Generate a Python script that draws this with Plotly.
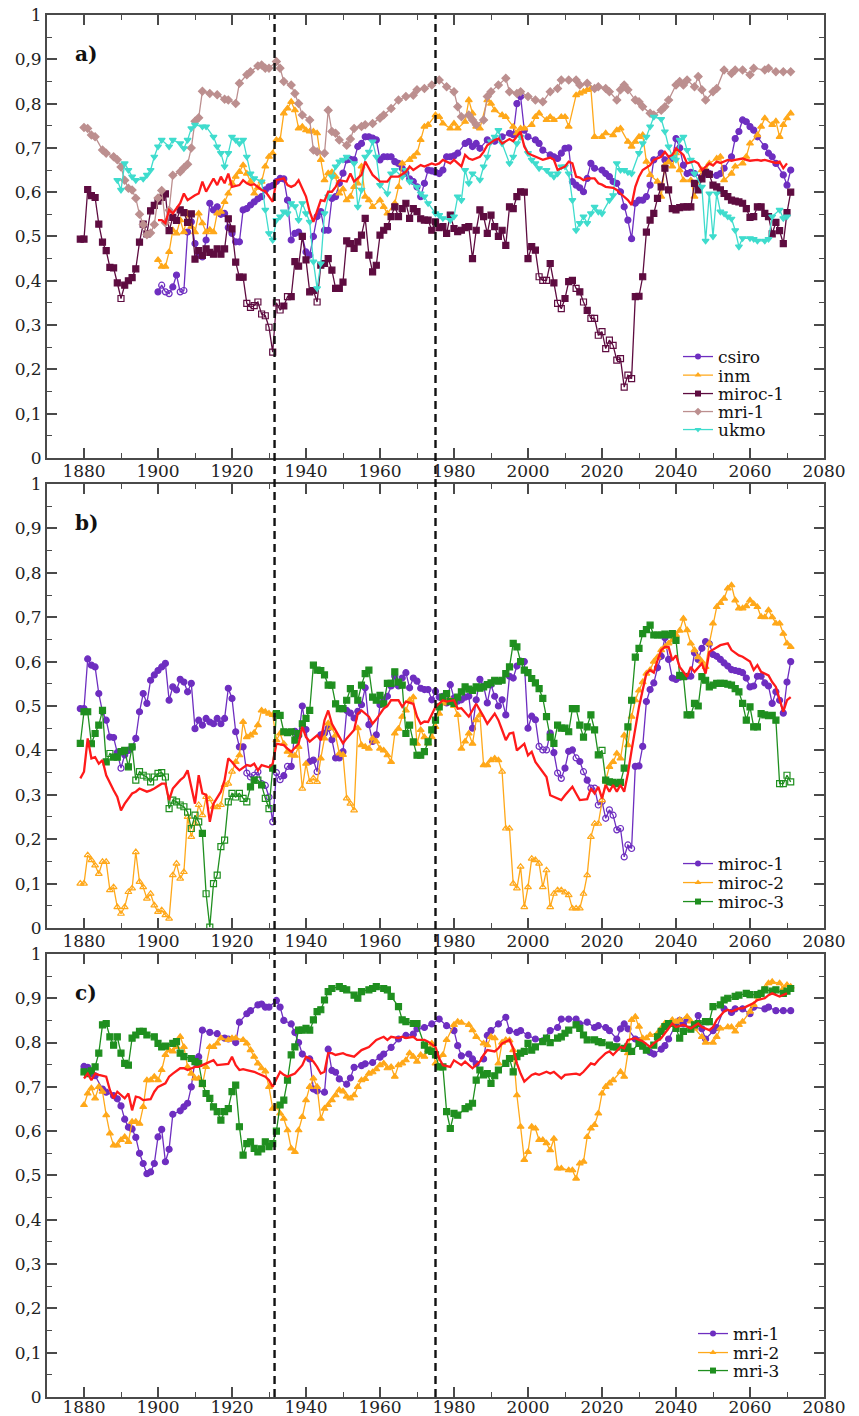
import plotly.graph_objects as go

# ------------------------------------------------------------------ data
x_ticks = [1880, 1900, 1920, 1940, 1960, 1980, 2000, 2020, 2040, 2060, 2080]
y_ticks = [0, 0.1, 0.2, 0.3, 0.4, 0.5, 0.6, 0.7, 0.8, 0.9, 1.0]
y_ticklabels = ["0", "0,1", "0,2", "0,3", "0,4", "0,5", "0,6", "0,7", "0,8", "0,9", "1"]
breaks = [1931.5, 1975.0]

mri1_years = [1880, 1881, 1882, 1883, 1885, 1886, 1888, 1889, 1890, 1891, 1892, 1893, 1894, 1895, 1896, 1897,
              1898, 1899, 1900, 1901, 1902, 1903, 1904, 1906, 1907, 1908, 1909, 1910, 1911, 1912, 1914, 1916,
              1918, 1919, 1921, 1922, 1924, 1925, 1927, 1928, 1929, 1930, 1932, 1933, 1934, 1936, 1937, 1938,
              1939, 1941, 1942, 1943, 1945, 1946, 1947, 1948, 1949, 1951, 1952, 1953, 1955, 1956, 1958, 1960,
              1961, 1963, 1965, 1967, 1969, 1970, 1972, 1974, 1976, 1978, 1980, 1981, 1982, 1984, 1985, 1986,
              1988, 1989, 1990, 1992, 1994, 1995, 1997, 1998, 2000, 2002, 2004, 2006, 2008, 2009, 2011, 2013,
              2014, 2016, 2018, 2019, 2021, 2022, 2024, 2025, 2026, 2027, 2029, 2030, 2031, 2033, 2034, 2036,
              2037, 2038, 2040, 2041, 2042, 2043, 2045, 2046, 2047, 2048, 2050, 2051, 2053, 2055, 2056, 2058,
              2060, 2061, 2064, 2065, 2067, 2069, 2071]
mri1_vals = [0.746, 0.744, 0.729, 0.725, 0.695, 0.688, 0.680, 0.673, 0.657, 0.627, 0.609, 0.605, 0.586, 0.550,
             0.527, 0.504, 0.508, 0.527, 0.587, 0.604, 0.531, 0.559, 0.638, 0.646, 0.655, 0.663, 0.700, 0.760,
             0.768, 0.828, 0.823, 0.820, 0.810, 0.808, 0.800, 0.846, 0.865, 0.872, 0.885, 0.887, 0.880, 0.880,
             0.895, 0.880, 0.850, 0.842, 0.823, 0.800, 0.774, 0.763, 0.695, 0.691, 0.688, 0.785, 0.737, 0.733,
             0.718, 0.706, 0.720, 0.744, 0.748, 0.752, 0.755, 0.767, 0.774, 0.789, 0.808, 0.816, 0.819, 0.831,
             0.834, 0.842, 0.853, 0.838, 0.827, 0.793, 0.770, 0.774, 0.763, 0.752, 0.763, 0.816, 0.827, 0.842,
             0.857, 0.827, 0.823, 0.827, 0.816, 0.808, 0.804, 0.827, 0.834, 0.853, 0.853, 0.853, 0.842, 0.846,
             0.834, 0.838, 0.834, 0.827, 0.808, 0.831, 0.842, 0.831, 0.808, 0.804, 0.793, 0.778, 0.774, 0.785,
             0.793, 0.808, 0.842, 0.850, 0.842, 0.853, 0.838, 0.861, 0.831, 0.808, 0.827, 0.834, 0.876, 0.868,
             0.876, 0.876, 0.865, 0.880, 0.876, 0.880, 0.872, 0.872, 0.872]

miroc1_years = list(range(1879, 2072))
miroc1_vals = [0.494, 0.494, 0.606, 0.592, 0.588, 0.528, 0.487, 0.468, 0.430, 0.429,   # 1879-1888
               0.395, 0.360, 0.390, 0.400, 0.407, 0.427, 0.487, 0.528, 0.506, 0.558,   # 1889-1898
               0.570, 0.580, 0.588, 0.596, 0.513, 0.543, 0.536, 0.560, 0.554, 0.532,   # 1899-1908
               0.551, 0.449, 0.468, 0.457, 0.472, 0.464, 0.460, 0.472, 0.460, 0.472,   # 1909-1918
               0.540, 0.517, 0.442, 0.408, 0.408, 0.349, 0.340, 0.344, 0.352, 0.325,   # 1919-1928
               0.321, 0.295, 0.239, 0.350, 0.334, 0.343, 0.364, 0.364, 0.443, 0.433,   # 1929-1938
               0.500, 0.447, 0.375, 0.378, 0.352, 0.435, 0.439, 0.450, 0.424, 0.383,   # 1939-1948
               0.383, 0.397, 0.490, 0.484, 0.473, 0.488, 0.503, 0.541, 0.458, 0.420,   # 1949-1958
               0.435, 0.503, 0.514, 0.522, 0.545, 0.567, 0.545, 0.563, 0.575, 0.541,   # 1959-1968
               0.563, 0.556, 0.540, 0.537, 0.537, 0.514, 0.533, 0.520, 0.522, 0.507,   # 1969-1978
               0.548, 0.518, 0.511, 0.514, 0.520, 0.522, 0.450, 0.514, 0.560, 0.545,   # 1979-1988
               0.507, 0.548, 0.522, 0.500, 0.514, 0.480, 0.567, 0.563, 0.590, 0.601,   # 1989-1998
               0.600, 0.450, 0.477, 0.469, 0.409, 0.401, 0.401, 0.439, 0.395, 0.349,   # 1999-2008
               0.337, 0.360, 0.398, 0.401, 0.383, 0.375, 0.352, 0.333, 0.315, 0.315,   # 2009-2018
               0.277, 0.285, 0.247, 0.266, 0.254, 0.221, 0.224, 0.160, 0.187, 0.179,   # 2019-2028
               0.364, 0.365, 0.409, 0.510, 0.537, 0.552, 0.586, 0.612, 0.654, 0.605,   # 2029-2038
               0.563, 0.560, 0.565, 0.567, 0.567, 0.567, 0.620, 0.605, 0.630, 0.645,   # 2039-2048
               0.640, 0.616, 0.612, 0.605, 0.597, 0.590, 0.582, 0.580, 0.578, 0.575,   # 2049-2058
               0.563, 0.543, 0.545, 0.567, 0.567, 0.552, 0.545, 0.506, 0.532, 0.513,   # 2059-2068
               0.484, 0.554, 0.600]                                                   # 2069-2071
miroc1_open = [1890] + list(range(1924, 1934)) + [1935, 1943, 2003, 2004, 2005, 2008, 2009, 2013, 2015] + \
              list(range(2017, 2029))

csiro_years = [1900, 1901, 1902, 1903, 1904, 1905, 1906, 1907, 1908, 1909, 1910, 1911, 1912, 1913, 1914, 1915,
               1916, 1917, 1918, 1919, 1920, 1921, 1922, 1923, 1924, 1925, 1926, 1927, 1928, 1929, 1930, 1931,
               1932, 1933, 1934, 1935, 1936, 1937, 1938, 1939, 1940, 1941, 1942, 1943, 1944, 1945, 1946, 1947,
               1948, 1949, 1950, 1951, 1952, 1953, 1954, 1955, 1956, 1957, 1958, 1959, 1960, 1961, 1962, 1963,
               1964, 1965, 1966, 1967, 1968, 1969, 1970, 1971, 1972, 1973, 1974, 1975, 1976, 1977, 1978, 1979,
               1980, 1981, 1983, 1984, 1985, 1986, 1987, 1989, 1991, 1993, 1995, 1996, 1997, 1998, 1999, 2000,
               2002, 2003, 2004, 2006, 2007, 2008, 2009, 2010, 2011, 2012, 2013, 2014, 2015, 2016, 2017, 2018,
               2020, 2021, 2022, 2023, 2024, 2025, 2026, 2027, 2028, 2029, 2030, 2031, 2032, 2033, 2034, 2036,
               2037, 2039, 2040, 2041, 2042, 2043, 2044, 2045, 2047, 2048, 2049, 2051, 2052, 2053, 2055, 2056,
               2057, 2058, 2059, 2060, 2061, 2062, 2064, 2065, 2066, 2067, 2069, 2070, 2071]
csiro_vals = [0.375, 0.390, 0.375, 0.371, 0.386, 0.413, 0.375, 0.378, 0.510, 0.533, 0.484, 0.458, 0.454, 0.492,
              0.575, 0.560, 0.567, 0.550, 0.552, 0.520, 0.507, 0.488, 0.488, 0.560, 0.563, 0.571, 0.578, 0.585,
              0.590, 0.605, 0.612, 0.615, 0.624, 0.631, 0.630, 0.582, 0.492, 0.507, 0.510, 0.500, 0.465, 0.458,
              0.500, 0.545, 0.556, 0.514, 0.514, 0.586, 0.590, 0.620, 0.643, 0.673, 0.674, 0.673, 0.703, 0.710,
              0.725, 0.725, 0.722, 0.718, 0.673, 0.680, 0.680, 0.680, 0.669, 0.665, 0.654, 0.643, 0.630, 0.624,
              0.612, 0.590, 0.620, 0.650, 0.648, 0.645, 0.642, 0.650, 0.680, 0.680, 0.682, 0.688, 0.710, 0.714,
              0.703, 0.710, 0.699, 0.718, 0.715, 0.725, 0.733, 0.730, 0.800, 0.816, 0.740, 0.725, 0.718, 0.710,
              0.695, 0.684, 0.680, 0.676, 0.688, 0.699, 0.700, 0.624, 0.616, 0.610, 0.601, 0.631, 0.665, 0.654,
              0.650, 0.642, 0.635, 0.624, 0.620, 0.601, 0.567, 0.537, 0.495, 0.575, 0.582, 0.582, 0.590, 0.616,
              0.673, 0.688, 0.673, 0.676, 0.721, 0.700, 0.661, 0.642, 0.645, 0.642, 0.635, 0.642, 0.642, 0.638,
              0.642, 0.654, 0.680, 0.721, 0.737, 0.763, 0.759, 0.748, 0.740, 0.725, 0.703, 0.688, 0.680, 0.665,
              0.639, 0.616, 0.650]
csiro_open = [1901, 1902, 1903, 1906, 1907]

inm_years = [1900, 1901, 1902, 1903, 1904, 1905, 1906, 1907, 1908, 1909, 1910, 1911, 1912, 1913, 1914, 1915,
             1916, 1917, 1918, 1919, 1920, 1921, 1922, 1923, 1924, 1925, 1926, 1927, 1928, 1929, 1930, 1931,
             1932, 1933, 1934, 1935, 1936, 1937, 1938, 1939, 1940, 1941, 1942, 1943, 1944, 1945, 1946, 1947,
             1948, 1949, 1950, 1951, 1952, 1953, 1954, 1955, 1956, 1957, 1958, 1960, 1961, 1962, 1964, 1965,
             1966, 1968, 1969, 1970, 1971, 1972, 1973, 1975, 1976, 1977, 1979, 1980, 1981, 1983, 1984, 1985,
             1986, 1987, 1989, 1990, 1991, 1993, 1994, 1996, 1997, 1998, 1999, 2001, 2002, 2003, 2005, 2006,
             2007, 2009, 2010, 2011, 2013, 2014, 2015, 2016, 2017, 2018, 2020, 2021, 2023, 2024, 2025, 2027,
             2028, 2029, 2030, 2031, 2032, 2033, 2035, 2036, 2037, 2038, 2039, 2040, 2041, 2042, 2044, 2045,
             2047, 2048, 2049, 2051, 2052, 2053, 2055, 2056, 2058, 2059, 2060, 2062, 2063, 2064, 2066, 2067,
             2068, 2069, 2070, 2071]
inm_vals = [0.447, 0.432, 0.432, 0.465, 0.514, 0.507, 0.537, 0.510, 0.552, 0.522, 0.510, 0.552, 0.530, 0.510,
            0.515, 0.510, 0.552, 0.556, 0.578, 0.597, 0.620, 0.635, 0.646, 0.661, 0.642, 0.624, 0.597, 0.610,
            0.624, 0.658, 0.680, 0.688, 0.718, 0.718, 0.778, 0.789, 0.804, 0.785, 0.744, 0.748, 0.740, 0.737,
            0.737, 0.733, 0.673, 0.627, 0.643, 0.645, 0.635, 0.597, 0.607, 0.582, 0.590, 0.612, 0.620, 0.658,
            0.590, 0.582, 0.567, 0.582, 0.567, 0.552, 0.575, 0.612, 0.665, 0.673, 0.680, 0.688, 0.718, 0.748,
            0.752, 0.774, 0.770, 0.755, 0.744, 0.755, 0.744, 0.759, 0.808, 0.778, 0.748, 0.744, 0.808, 0.800,
            0.785, 0.774, 0.770, 0.748, 0.733, 0.744, 0.744, 0.752, 0.770, 0.778, 0.763, 0.770, 0.763, 0.770,
            0.770, 0.748, 0.819, 0.823, 0.827, 0.831, 0.834, 0.725, 0.725, 0.733, 0.729, 0.740, 0.744, 0.714,
            0.703, 0.714, 0.725, 0.729, 0.669, 0.639, 0.624, 0.590, 0.661, 0.668, 0.658, 0.688, 0.650, 0.627,
            0.627, 0.590, 0.650, 0.650, 0.665, 0.676, 0.680, 0.627, 0.642, 0.658, 0.665, 0.680, 0.710, 0.729,
            0.748, 0.767, 0.752, 0.760, 0.725, 0.752, 0.767, 0.778]

ukmo_years = [1889, 1890, 1891, 1892, 1893, 1894, 1896, 1897, 1898, 1899, 1900, 1901, 1903, 1904, 1906, 1907,
              1908, 1909, 1910, 1912, 1913, 1915, 1916, 1917, 1918, 1919, 1920, 1921, 1922, 1923, 1924, 1925,
              1926, 1928, 1929, 1930, 1931, 1932, 1933, 1934, 1935, 1936, 1937, 1938, 1939, 1940, 1941, 1942,
              1943, 1944, 1945, 1946, 1947, 1948, 1949, 1950, 1951, 1953, 1954, 1955, 1956, 1957, 1958, 1959,
              1960, 1962, 1963, 1964, 1966, 1967, 1968, 1970, 1971, 1972, 1973, 1975, 1976, 1977, 1979, 1980,
              1981, 1982, 1983, 1984, 1985, 1987, 1988, 1989, 1990, 1991, 1992, 1993, 1995, 1996, 1997, 1998,
              2000, 2001, 2002, 2003, 2005, 2006, 2007, 2008, 2009, 2010, 2011, 2012, 2013, 2014, 2015, 2016,
              2017, 2018, 2019, 2020, 2022, 2023, 2024, 2025, 2026, 2027, 2028, 2030, 2031, 2032, 2033, 2034,
              2036, 2037, 2038, 2039, 2040, 2041, 2042, 2043, 2044, 2045, 2047, 2048, 2049, 2050, 2051, 2052,
              2053, 2054, 2055, 2056, 2057, 2058, 2060, 2061, 2062, 2064, 2065, 2066, 2068, 2069, 2070]
ukmo_vals = [0.627, 0.605, 0.665, 0.650, 0.635, 0.627, 0.630, 0.639, 0.650, 0.680, 0.703, 0.718, 0.703, 0.718,
             0.710, 0.699, 0.718, 0.744, 0.752, 0.748, 0.748, 0.725, 0.703, 0.688, 0.658, 0.688, 0.725, 0.718,
             0.710, 0.718, 0.680, 0.642, 0.631, 0.624, 0.560, 0.507, 0.492, 0.537, 0.545, 0.556, 0.552, 0.575,
             0.568, 0.537, 0.575, 0.552, 0.533, 0.443, 0.383, 0.439, 0.552, 0.590, 0.635, 0.658, 0.669, 0.673,
             0.680, 0.665, 0.567, 0.605, 0.680, 0.691, 0.714, 0.680, 0.616, 0.597, 0.642, 0.650, 0.635, 0.650,
             0.624, 0.612, 0.597, 0.590, 0.575, 0.552, 0.548, 0.541, 0.537, 0.545, 0.590, 0.582, 0.650, 0.620,
             0.642, 0.628, 0.658, 0.680, 0.714, 0.725, 0.740, 0.710, 0.665, 0.680, 0.710, 0.725, 0.688, 0.673,
             0.665, 0.654, 0.650, 0.642, 0.635, 0.642, 0.658, 0.658, 0.642, 0.582, 0.514, 0.530, 0.545, 0.530,
             0.552, 0.567, 0.556, 0.552, 0.582, 0.593, 0.665, 0.650, 0.650, 0.645, 0.642, 0.688, 0.710, 0.725,
             0.748, 0.770, 0.765, 0.737, 0.703, 0.680, 0.673, 0.718, 0.725, 0.695, 0.673, 0.642, 0.612, 0.490,
             0.597, 0.500, 0.597, 0.556, 0.552, 0.545, 0.540, 0.514, 0.477, 0.496, 0.496, 0.494, 0.490, 0.490,
             0.494, 0.545, 0.560, 0.541, 0.545]

mean_a_years = [1900, 1901, 1902, 1903, 1904, 1906, 1907, 1908, 1910, 1911, 1912, 1913, 1915, 1916, 1917, 1918,
                1919, 1920, 1922, 1923, 1924, 1925, 1926, 1928, 1929, 1930, 1931, 1932, 1934, 1935, 1936, 1937,
                1938, 1940, 1941, 1942, 1943, 1944, 1945, 1946, 1947, 1948, 1949, 1951, 1952, 1953, 1955, 1956,
                1957, 1958, 1960, 1962, 1963, 1965, 1967, 1968, 1969, 1971, 1972, 1974, 1975, 1976, 1977, 1979,
                1980, 1982, 1983, 1984, 1985, 1987, 1988, 1989, 1991, 1992, 1993, 1995, 1996, 1997, 1998, 1999,
                2000, 2001, 2003, 2004, 2006, 2007, 2008, 2010, 2011, 2012, 2013, 2014, 2015, 2016, 2018, 2019,
                2020, 2021, 2023, 2024, 2025, 2027, 2028, 2029, 2030, 2031, 2033, 2034, 2036, 2037, 2038, 2039,
                2040, 2042, 2043, 2045, 2046, 2047, 2049, 2050, 2051, 2052, 2054, 2055, 2056, 2058, 2059, 2060,
                2062, 2063, 2064, 2066, 2067, 2068, 2069, 2070]
mean_a_vals = [0.537, 0.537, 0.530, 0.560, 0.552, 0.575, 0.597, 0.582, 0.593, 0.597, 0.624, 0.601, 0.631, 0.616,
               0.635, 0.620, 0.642, 0.612, 0.616, 0.627, 0.620, 0.616, 0.618, 0.605, 0.602, 0.590, 0.578, 0.627,
               0.631, 0.616, 0.612, 0.616, 0.627, 0.590, 0.556, 0.533, 0.560, 0.582, 0.580, 0.601, 0.601, 0.612,
               0.627, 0.624, 0.642, 0.624, 0.639, 0.669, 0.654, 0.639, 0.624, 0.624, 0.635, 0.635, 0.646, 0.658,
               0.650, 0.661, 0.658, 0.665, 0.662, 0.665, 0.673, 0.665, 0.673, 0.658, 0.684, 0.676, 0.673, 0.680,
               0.691, 0.706, 0.718, 0.721, 0.710, 0.720, 0.715, 0.725, 0.737, 0.703, 0.688, 0.684, 0.676, 0.673,
               0.678, 0.673, 0.650, 0.658, 0.669, 0.665, 0.635, 0.633, 0.627, 0.631, 0.631, 0.620, 0.617, 0.612,
               0.610, 0.605, 0.597, 0.582, 0.571, 0.612, 0.635, 0.650, 0.661, 0.673, 0.680, 0.691, 0.680, 0.684,
               0.699, 0.684, 0.665, 0.670, 0.665, 0.650, 0.665, 0.660, 0.669, 0.666, 0.673, 0.671, 0.673, 0.676,
               0.673, 0.671, 0.673, 0.671, 0.673, 0.669, 0.666, 0.669, 0.654, 0.665]

miroc2_years = list(range(1879, 2072))
miroc2_vals = [0.100, 0.100, 0.164, 0.153, 0.141, 0.122, 0.149, 0.149, 0.085, 0.092,   # 1879-1888
               0.047, 0.032, 0.047, 0.081, 0.089, 0.171, 0.104, 0.092, 0.066, 0.077,   # 1889-1898
               0.051, 0.036, 0.040, 0.029, 0.021, 0.119, 0.145, 0.111, 0.126, 0.250,   # 1899-1908
               0.205, 0.235, 0.277, 0.254, 0.295, 0.290, 0.273, 0.272, 0.277, 0.322,   # 1909-1918
               0.325, 0.352, 0.374, 0.389, 0.464, 0.430, 0.434, 0.440, 0.457, 0.490,   # 1919-1928
               0.487, 0.483, 0.480, 0.423, 0.438, 0.415, 0.397, 0.389, 0.388, 0.408,   # 1929-1938
               0.314, 0.370, 0.329, 0.337, 0.329, 0.382, 0.427, 0.461, 0.450, 0.434,   # 1939-1948
               0.393, 0.390, 0.292, 0.280, 0.265, 0.450, 0.412, 0.408, 0.404, 0.427,   # 1949-1958
               0.420, 0.404, 0.400, 0.389, 0.374, 0.438, 0.449, 0.476, 0.490, 0.513,   # 1959-1968
               0.520, 0.415, 0.446, 0.430, 0.416, 0.430, 0.453, 0.483, 0.506, 0.510,   # 1969-1978
               0.513, 0.500, 0.480, 0.404, 0.420, 0.438, 0.415, 0.468, 0.480, 0.367,   # 1979-1988
               0.367, 0.378, 0.382, 0.378, 0.352, 0.224, 0.224, 0.100, 0.089, 0.138,   # 1989-1998
               0.047, 0.092, 0.156, 0.153, 0.145, 0.092, 0.130, 0.047, 0.077, 0.085,   # 1999-2008
               0.085, 0.080, 0.074, 0.044, 0.044, 0.044, 0.077, 0.119, 0.205, 0.235,   # 2009-2018
               0.235, 0.288, 0.333, 0.363, 0.374, 0.393, 0.382, 0.434, 0.412, 0.476,   # 2019-2028
               0.513, 0.535, 0.554, 0.573, 0.581, 0.600, 0.610, 0.626, 0.633, 0.641,   # 2029-2038
               0.648, 0.660, 0.670, 0.697, 0.671, 0.641, 0.626, 0.610, 0.600, 0.588,   # 2039-2048
               0.641, 0.686, 0.723, 0.732, 0.742, 0.765, 0.772, 0.738, 0.720, 0.720,   # 2049-2058
               0.725, 0.738, 0.730, 0.723, 0.701, 0.700, 0.716, 0.700, 0.686, 0.686,   # 2059-2068
               0.663, 0.641, 0.633]                                                   # 2069-2071
miroc2_open = list(range(1879, 1921)) + [1939, 1941, 1942, 1943, 1951, 1952, 1953] + list(range(1993, 2022))

miroc3_years = list(range(1879, 2072))
miroc3_vals = [0.416, 0.487, 0.487, 0.415, 0.438, 0.457, 0.490, 0.374, 0.393, 0.385,   # 1879-1888
               0.385, 0.397, 0.400, 0.363, 0.408, 0.333, 0.352, 0.344, 0.340, 0.329,   # 1889-1898
               0.340, 0.348, 0.350, 0.340, 0.269, 0.288, 0.284, 0.277, 0.273, 0.261,   # 1899-1908
               0.224, 0.254, 0.239, 0.213, 0.077, 0.002, 0.100, 0.119, 0.183, 0.198,   # 1909-1918
               0.284, 0.303, 0.295, 0.303, 0.292, 0.284, 0.318, 0.333, 0.333, 0.322,   # 1919-1928
               0.292, 0.269, 0.360, 0.483, 0.479, 0.442, 0.440, 0.442, 0.423, 0.438,   # 1929-1938
               0.460, 0.472, 0.490, 0.592, 0.581, 0.580, 0.570, 0.547, 0.547, 0.505,   # 1939-1948
               0.494, 0.494, 0.513, 0.539, 0.528, 0.513, 0.547, 0.573, 0.581, 0.520,   # 1949-1958
               0.513, 0.524, 0.505, 0.551, 0.551, 0.577, 0.554, 0.547, 0.438, 0.457,   # 1959-1968
               0.419, 0.389, 0.389, 0.397, 0.419, 0.446, 0.468, 0.498, 0.520, 0.528,   # 1969-1978
               0.510, 0.506, 0.520, 0.532, 0.543, 0.538, 0.535, 0.543, 0.540, 0.543,   # 1979-1988
               0.548, 0.552, 0.558, 0.556, 0.558, 0.573, 0.588, 0.641, 0.633, 0.600,   # 1989-1998
               0.581, 0.575, 0.562, 0.552, 0.539, 0.517, 0.476, 0.430, 0.416, 0.457,   # 1999-2008
               0.450, 0.450, 0.442, 0.494, 0.494, 0.457, 0.430, 0.453, 0.480, 0.446,   # 2009-2018
               0.390, 0.400, 0.333, 0.329, 0.328, 0.325, 0.328, 0.360, 0.453, 0.513,   # 2019-2028
               0.610, 0.630, 0.663, 0.672, 0.682, 0.660, 0.660, 0.660, 0.662, 0.660,   # 2029-2038
               0.663, 0.648, 0.569, 0.566, 0.480, 0.480, 0.506, 0.500, 0.566, 0.558,   # 2039-2048
               0.543, 0.547, 0.551, 0.551, 0.551, 0.549, 0.547, 0.539, 0.532, 0.506,   # 2049-2058
               0.468, 0.498, 0.453, 0.453, 0.483, 0.480, 0.478, 0.479, 0.468, 0.325,   # 2059-2068
               0.325, 0.344, 0.329]                                                   # 2069-2071
miroc3_open = [1887] + list(range(1894, 1912)) + list(range(1913, 1925)) + [1927, 1929, 1930, 2020, 2068, 2069,
                                                                             2070, 2071]

mean_b_years = [1879, 1880, 1881, 1882, 1883, 1884, 1885, 1886, 1888, 1889, 1890, 1891, 1893, 1894, 1895, 1897,
                1898, 1899, 1901, 1902, 1903, 1904, 1906, 1907, 1908, 1909, 1910, 1911, 1912, 1913, 1914, 1915,
                1916, 1917, 1918, 1919, 1920, 1921, 1922, 1924, 1925, 1926, 1927, 1928, 1930, 1931, 1932, 1934,
                1935, 1936, 1938, 1939, 1940, 1941, 1943, 1944, 1945, 1946, 1947, 1949, 1950, 1951, 1953, 1954,
                1955, 1957, 1958, 1959, 1961, 1962, 1963, 1965, 1966, 1967, 1969, 1970, 1971, 1972, 1973, 1975,
                1977, 1978, 1980, 1981, 1982, 1984, 1985, 1986, 1988, 1989, 1991, 1992, 1993, 1994, 1995, 1996,
                1997, 1999, 2000, 2001, 2002, 2004, 2005, 2006, 2008, 2009, 2010, 2012, 2013, 2014, 2016, 2017,
                2018, 2019, 2020, 2021, 2022, 2023, 2024, 2025, 2026, 2027, 2028, 2029, 2030, 2031, 2032, 2033,
                2034, 2035, 2036, 2037, 2038, 2039, 2040, 2041, 2043, 2044, 2045, 2047, 2048, 2049, 2051, 2052,
                2054, 2055, 2057, 2058, 2060, 2061, 2062, 2063, 2065, 2066, 2067, 2068, 2069, 2070, 2071]
mean_b_vals = [0.337, 0.352, 0.427, 0.382, 0.385, 0.370, 0.378, 0.344, 0.310, 0.295, 0.265, 0.280, 0.303, 0.307,
               0.314, 0.307, 0.310, 0.314, 0.325, 0.325, 0.288, 0.314, 0.333, 0.340, 0.355, 0.318, 0.280, 0.344,
               0.303, 0.300, 0.239, 0.280, 0.295, 0.307, 0.333, 0.382, 0.374, 0.363, 0.355, 0.367, 0.365, 0.370,
               0.355, 0.367, 0.362, 0.370, 0.415, 0.412, 0.404, 0.397, 0.415, 0.453, 0.430, 0.420, 0.434, 0.423,
               0.468, 0.490, 0.460, 0.430, 0.416, 0.427, 0.446, 0.483, 0.490, 0.476, 0.460, 0.470, 0.494, 0.500,
               0.513, 0.513, 0.498, 0.510, 0.505, 0.476, 0.460, 0.465, 0.464, 0.498, 0.513, 0.510, 0.513, 0.494,
               0.495, 0.476, 0.490, 0.505, 0.476, 0.460, 0.483, 0.468, 0.446, 0.423, 0.438, 0.440, 0.400, 0.415,
               0.389, 0.397, 0.374, 0.352, 0.340, 0.299, 0.292, 0.288, 0.299, 0.318, 0.303, 0.288, 0.290, 0.314,
               0.303, 0.318, 0.292, 0.322, 0.307, 0.322, 0.307, 0.322, 0.307, 0.348, 0.400, 0.453, 0.498, 0.536,
               0.573, 0.581, 0.575, 0.603, 0.626, 0.633, 0.633, 0.603, 0.614, 0.588, 0.566, 0.588, 0.577, 0.596,
               0.573, 0.622, 0.633, 0.637, 0.641, 0.626, 0.614, 0.611, 0.600, 0.581, 0.592, 0.577, 0.569, 0.554,
               0.543, 0.513, 0.487, 0.513, 0.520]

mri2_years = [1880, 1881, 1882, 1883, 1884, 1885, 1886, 1887, 1888, 1889, 1890, 1891, 1892, 1893, 1894, 1895,
              1896, 1897, 1898, 1899, 1900, 1901, 1902, 1903, 1904, 1905, 1906, 1907, 1908, 1909, 1910, 1911,
              1912, 1913, 1914, 1915, 1916, 1917, 1919, 1920, 1921, 1923, 1924, 1925, 1926, 1927, 1928, 1929,
              1930, 1931, 1932, 1933, 1934, 1935, 1936, 1937, 1938, 1939, 1940, 1941, 1942, 1943, 1944, 1945,
              1946, 1947, 1948, 1949, 1950, 1951, 1952, 1953, 1954, 1955, 1956, 1957, 1958, 1959, 1960, 1961,
              1962, 1963, 1964, 1965, 1966, 1967, 1968, 1969, 1970, 1971, 1972, 1973, 1974, 1975, 1977, 1978,
              1980, 1981, 1982, 1984, 1985, 1986, 1988, 1989, 1990, 1991, 1992, 1993, 1994, 1995, 1996, 1997,
              1998, 1999, 2000, 2001, 2002, 2003, 2004, 2005, 2006, 2007, 2008, 2009, 2011, 2012, 2013, 2014,
              2015, 2016, 2017, 2018, 2019, 2020, 2021, 2022, 2023, 2025, 2026, 2027, 2028, 2029, 2030, 2031,
              2032, 2033, 2035, 2036, 2037, 2039, 2040, 2041, 2043, 2044, 2045, 2047, 2048, 2050, 2051, 2052,
              2054, 2055, 2056, 2057, 2058, 2060, 2061, 2062, 2064, 2065, 2066, 2068, 2069, 2070, 2071]
mri2_vals = [0.659, 0.685, 0.697, 0.674, 0.700, 0.689, 0.636, 0.595, 0.568, 0.568, 0.580, 0.587, 0.576, 0.621,
             0.621, 0.617, 0.655, 0.715, 0.715, 0.723, 0.715, 0.738, 0.772, 0.783, 0.780, 0.790, 0.813, 0.790,
             0.745, 0.730, 0.719, 0.719, 0.704, 0.745, 0.790, 0.790, 0.798, 0.810, 0.806, 0.810, 0.810, 0.806,
             0.798, 0.783, 0.768, 0.753, 0.742, 0.735, 0.700, 0.651, 0.655, 0.640, 0.628, 0.602, 0.561, 0.553,
             0.602, 0.632, 0.670, 0.700, 0.719, 0.700, 0.628, 0.651, 0.659, 0.670, 0.681, 0.693, 0.690, 0.678,
             0.674, 0.681, 0.700, 0.715, 0.718, 0.730, 0.733, 0.740, 0.749, 0.753, 0.742, 0.745, 0.723, 0.749,
             0.753, 0.760, 0.776, 0.768, 0.757, 0.772, 0.768, 0.783, 0.798, 0.753, 0.772, 0.806, 0.840, 0.847,
             0.845, 0.840, 0.828, 0.813, 0.798, 0.794, 0.813, 0.810, 0.753, 0.800, 0.806, 0.805, 0.783, 0.681,
             0.610, 0.535, 0.553, 0.610, 0.606, 0.580, 0.580, 0.573, 0.557, 0.583, 0.516, 0.516, 0.512, 0.512,
             0.493, 0.527, 0.531, 0.587, 0.606, 0.614, 0.640, 0.685, 0.700, 0.708, 0.715, 0.734, 0.723, 0.776,
             0.851, 0.858, 0.836, 0.810, 0.810, 0.817, 0.821, 0.832, 0.843, 0.851, 0.847, 0.851, 0.858, 0.848,
             0.832, 0.813, 0.800, 0.800, 0.813, 0.832, 0.835, 0.835, 0.825, 0.840, 0.847, 0.870, 0.885, 0.904,
             0.922, 0.934, 0.937, 0.934, 0.922, 0.930, 0.926]

mri3_years = [1880, 1881, 1882, 1883, 1884, 1885, 1886, 1887, 1888, 1889, 1890, 1891, 1892, 1893, 1894, 1895,
              1896, 1897, 1899, 1900, 1901, 1902, 1904, 1905, 1906, 1907, 1909, 1910, 1911, 1912, 1913, 1914,
              1915, 1916, 1917, 1918, 1919, 1920, 1921, 1922, 1923, 1924, 1925, 1926, 1927, 1928, 1929, 1930,
              1931, 1932, 1933, 1934, 1935, 1936, 1937, 1938, 1939, 1940, 1941, 1942, 1943, 1944, 1945, 1946,
              1947, 1949, 1950, 1951, 1953, 1954, 1955, 1957, 1958, 1959, 1961, 1962, 1963, 1965, 1966, 1967,
              1969, 1970, 1972, 1973, 1974, 1975, 1976, 1977, 1978, 1979, 1980, 1981, 1983, 1984, 1985, 1986,
              1987, 1988, 1989, 1990, 1991, 1992, 1994, 1995, 1996, 1997, 1998, 1999, 2000, 2001, 2002, 2004,
              2005, 2006, 2008, 2009, 2010, 2011, 2013, 2014, 2015, 2016, 2018, 2019, 2020, 2022, 2023, 2024,
              2026, 2027, 2028, 2030, 2031, 2032, 2034, 2035, 2036, 2037, 2038, 2040, 2041, 2042, 2044, 2045,
              2046, 2048, 2049, 2050, 2052, 2053, 2054, 2056, 2057, 2059, 2060, 2062, 2063, 2064, 2066, 2067,
              2069, 2070, 2071]
mri3_vals = [0.734, 0.730, 0.736, 0.745, 0.776, 0.840, 0.843, 0.813, 0.794, 0.813, 0.776, 0.753, 0.749, 0.810,
             0.817, 0.825, 0.825, 0.817, 0.813, 0.798, 0.790, 0.792, 0.798, 0.802, 0.776, 0.768, 0.764, 0.757,
             0.753, 0.708, 0.685, 0.674, 0.655, 0.644, 0.625, 0.644, 0.651, 0.689, 0.704, 0.610, 0.546, 0.572,
             0.576, 0.561, 0.553, 0.560, 0.576, 0.565, 0.572, 0.600, 0.659, 0.670, 0.715, 0.772, 0.790, 0.828,
             0.828, 0.832, 0.828, 0.851, 0.870, 0.874, 0.896, 0.915, 0.922, 0.926, 0.922, 0.919, 0.907, 0.900,
             0.915, 0.919, 0.922, 0.926, 0.922, 0.919, 0.904, 0.881, 0.851, 0.847, 0.843, 0.843, 0.794, 0.783,
             0.780, 0.772, 0.745, 0.745, 0.644, 0.606, 0.640, 0.636, 0.651, 0.655, 0.663, 0.715, 0.738, 0.727,
             0.730, 0.708, 0.725, 0.738, 0.753, 0.764, 0.734, 0.768, 0.776, 0.780, 0.798, 0.783, 0.790, 0.802,
             0.810, 0.800, 0.810, 0.813, 0.821, 0.828, 0.840, 0.832, 0.817, 0.806, 0.806, 0.802, 0.800, 0.794,
             0.790, 0.790, 0.787, 0.790, 0.780, 0.798, 0.792, 0.783, 0.794, 0.813, 0.825, 0.836, 0.843, 0.832,
             0.810, 0.825, 0.830, 0.840, 0.843, 0.847, 0.847, 0.881, 0.885, 0.896, 0.900, 0.904, 0.907, 0.911,
             0.908, 0.908, 0.911, 0.919, 0.916, 0.919, 0.911, 0.916, 0.922]

mean_c_years = [1880, 1881, 1882, 1883, 1884, 1886, 1887, 1888, 1889, 1891, 1892, 1893, 1894, 1895, 1896, 1898,
                1899, 1900, 1902, 1903, 1904, 1906, 1907, 1908, 1910, 1911, 1912, 1914, 1915, 1916, 1918, 1919,
                1920, 1921, 1922, 1923, 1924, 1926, 1927, 1929, 1930, 1931, 1933, 1934, 1935, 1936, 1937, 1939,
                1940, 1941, 1942, 1943, 1944, 1945, 1946, 1947, 1948, 1950, 1951, 1953, 1954, 1955, 1957, 1958,
                1959, 1961, 1962, 1963, 1965, 1966, 1967, 1969, 1970, 1972, 1973, 1975, 1976, 1977, 1979, 1980,
                1982, 1983, 1984, 1985, 1987, 1988, 1989, 1991, 1992, 1993, 1995, 1996, 1997, 1998, 1999, 2001,
                2002, 2003, 2005, 2006, 2007, 2008, 2009, 2010, 2012, 2013, 2014, 2015, 2017, 2018, 2019, 2021,
                2022, 2023, 2025, 2026, 2027, 2029, 2030, 2031, 2033, 2034, 2036, 2037, 2038, 2039, 2040, 2042,
                2043, 2044, 2046, 2047, 2049, 2050, 2051, 2053, 2054, 2055, 2057, 2058, 2059, 2061, 2062, 2064,
                2065, 2066, 2068, 2069, 2070]
mean_c_vals = [0.719, 0.730, 0.715, 0.730, 0.727, 0.723, 0.693, 0.674, 0.689, 0.674, 0.685, 0.647, 0.678, 0.676,
               0.670, 0.672, 0.689, 0.700, 0.708, 0.723, 0.730, 0.742, 0.742, 0.738, 0.745, 0.745, 0.749, 0.757,
               0.760, 0.749, 0.750, 0.752, 0.768, 0.749, 0.738, 0.740, 0.738, 0.734, 0.730, 0.723, 0.715, 0.700,
               0.734, 0.727, 0.723, 0.727, 0.730, 0.749, 0.768, 0.764, 0.757, 0.745, 0.730, 0.734, 0.776, 0.776,
               0.772, 0.776, 0.772, 0.768, 0.776, 0.783, 0.790, 0.798, 0.806, 0.813, 0.806, 0.813, 0.810, 0.813,
               0.810, 0.813, 0.806, 0.806, 0.802, 0.790, 0.764, 0.749, 0.745, 0.760, 0.749, 0.757, 0.750, 0.742,
               0.757, 0.772, 0.783, 0.780, 0.787, 0.798, 0.806, 0.787, 0.753, 0.730, 0.712, 0.727, 0.730, 0.727,
               0.734, 0.730, 0.734, 0.727, 0.719, 0.727, 0.730, 0.730, 0.727, 0.734, 0.753, 0.750, 0.760, 0.776,
               0.780, 0.772, 0.790, 0.787, 0.806, 0.810, 0.806, 0.803, 0.790, 0.798, 0.810, 0.821, 0.832, 0.843,
               0.835, 0.840, 0.836, 0.832, 0.843, 0.835, 0.828, 0.835, 0.851, 0.870, 0.874, 0.870, 0.877, 0.877,
               0.881, 0.889, 0.896, 0.900, 0.907, 0.911, 0.904, 0.907, 0.911]

# ------------------------------------------------------------------ style
PURPLE = "#6e2ec0"
ORANGE = "#ffa81a"
MAROON = "#5e0c40"
ROSY = "#bc8f8f"
TURQ = "#3fdccd"
GREEN = "#1f8f1f"
RED = "#ff1a1a"
FONT = "DejaVu Serif"

fig = go.Figure()
legend_layout = {}
legend_font = dict(family=FONT, size=17, color="#111")
legend_count = [0]


def add_series(name, years, vals, color, symbol, open_years, xa, ya, lx, ly):
    syms = [symbol + "-open" if yr in open_years else symbol for yr in years]
    fig.add_trace(go.Scatter(
        x=years, y=vals, mode="lines+markers", name=name, showlegend=False,
        line=dict(color=color, width=1.3),
        marker=dict(symbol=syms, size=6, color=color, line=dict(width=1.2, color=color)),
        xaxis=xa, yaxis=ya))
    # one legend box per entry so that the rows can be spaced like the original
    legend_count[0] += 1
    key = "legend" if legend_count[0] == 1 else "legend%d" % legend_count[0]
    legend_layout[key] = dict(x=lx, y=ly, xanchor="left", yanchor="middle", font=legend_font,
                              bgcolor="rgba(0,0,0,0)", borderwidth=0, itemwidth=30)
    fig.add_trace(go.Scatter(
        x=[None], y=[None], mode="lines+markers", name=name, legend=key,
        line=dict(color=color, width=1.3),
        marker=dict(symbol=symbol, size=6, color=color),
        xaxis=xa, yaxis=ya))


def add_mean(years, vals, xa, ya):
    fig.add_trace(go.Scatter(
        x=years, y=vals, mode="lines", showlegend=False, name="mean",
        line=dict(color=RED, width=2.3), xaxis=xa, yaxis=ya))


def py2paper(py):
    return (1397.0 - py) / 1382.0


def px2paper(px):
    return (px - 47.0) / 777.0


# panel a
LXA = px2paper(678)
add_series("csiro", csiro_years, csiro_vals, PURPLE, "circle", csiro_open, "x", "y", LXA, py2paper(357))
add_series("inm", inm_years, inm_vals, ORANGE, "triangle-up", [], "x", "y", LXA, py2paper(375.5))
add_series("miroc-1", miroc1_years, miroc1_vals, MAROON, "square", miroc1_open, "x", "y", LXA, py2paper(394))
add_series("mri-1", mri1_years, mri1_vals, ROSY, "diamond", [], "x", "y", LXA, py2paper(412))
add_series("ukmo", ukmo_years, ukmo_vals, TURQ, "triangle-down", [], "x", "y", LXA, py2paper(430))
add_mean(mean_a_years, mean_a_vals, "x", "y")

# panel b
add_series("miroc-1", miroc1_years, miroc1_vals, PURPLE, "circle", miroc1_open, "x2", "y2", LXA, py2paper(864))
add_series("miroc-2", miroc2_years, miroc2_vals, ORANGE, "triangle-up", miroc2_open, "x2", "y2", LXA,
           py2paper(883))
add_series("miroc-3", miroc3_years, miroc3_vals, GREEN, "square", miroc3_open, "x2", "y2", LXA, py2paper(902))
add_mean(mean_b_years, mean_b_vals, "x2", "y2")

# panel c
LXC = px2paper(693)
add_series("mri-1", mri1_years, mri1_vals, PURPLE, "circle", [], "x3", "y3", LXC, py2paper(1334))
add_series("mri-2", mri2_years, mri2_vals, ORANGE, "triangle-up", [], "x3", "y3", LXC, py2paper(1353))
add_series("mri-3", mri3_years, mri3_vals, GREEN, "square", [], "x3", "y3", LXC, py2paper(1371))
add_mean(mean_c_years, mean_c_vals, "x3", "y3")

AXCOL = "#4a4a4a"
tickfont = dict(family=FONT, size=17, color="#222")


def xaxis_cfg(anchor, standoff=-3):
    return dict(range=[1870, 2080], tickvals=x_ticks, ticks="inside", ticklen=10, tickwidth=1.6,
                tickcolor=AXCOL, showline=True, linecolor=AXCOL, linewidth=1.8, mirror="ticks",
                showgrid=False, zeroline=False, tickfont=tickfont, anchor=anchor, automargin=False,
                ticklabeloverflow="allow", ticklabelstandoff=standoff,
                minor=dict(tick0=1870, dtick=10, ticks="inside", ticklen=5, tickwidth=1.4,
                           tickcolor=AXCOL, showgrid=False))


def yaxis_cfg(domain, anchor):
    return dict(range=[0, 1], domain=domain, tickvals=y_ticks, ticktext=y_ticklabels, ticks="inside",
                ticklen=10, tickwidth=1.6, tickcolor=AXCOL, showline=True, linecolor=AXCOL, linewidth=1.8,
                mirror="ticks", showgrid=False, zeroline=False, tickfont=tickfont, anchor=anchor,
                automargin=False, ticklabeloverflow="allow",
                minor=dict(tick0=0, dtick=0.05, ticks="inside", ticklen=5, tickwidth=1.4, tickcolor=AXCOL,
                           showgrid=False))


# the page adds an 8 px body offset, so the margins are shifted to land the
# plot area on the same pixels as in the original picture
fig.update_layout(
    width=859, height=1416,
    margin=dict(l=39, r=43, t=7, b=27, autoexpand=False),
    paper_bgcolor="white", plot_bgcolor="white",
    xaxis=xaxis_cfg("y"), xaxis2=xaxis_cfg("y2"), xaxis3=xaxis_cfg("y3", standoff=-6),
    yaxis=yaxis_cfg([0.6795, 1.0], "x"),
    yaxis2=yaxis_cfg([0.3394, 0.6606], "x2"),
    yaxis3=yaxis_cfg([0.0, 0.3206], "x3"),
    showlegend=True,
    **legend_layout
)

for xb in breaks:
    fig.add_shape(type="line", xref="x", yref="paper", x0=xb, x1=xb, y0=0, y1=1,
                  line=dict(color="#111", width=2.4, dash="8px,5px"), layer="above")

for lab, xr, yr in [("a)", "x domain", "y domain"), ("b)", "x2 domain", "y2 domain"),
                    ("c)", "x3 domain", "y3 domain")]:
    fig.add_annotation(text="<b>" + lab + "</b>", xref=xr, yref=yr, x=0.033, y=0.912,
                       xanchor="left", yanchor="middle", showarrow=False,
                       font=dict(family=FONT, size=20, color="#111"))

fig.write_html("out.html")
